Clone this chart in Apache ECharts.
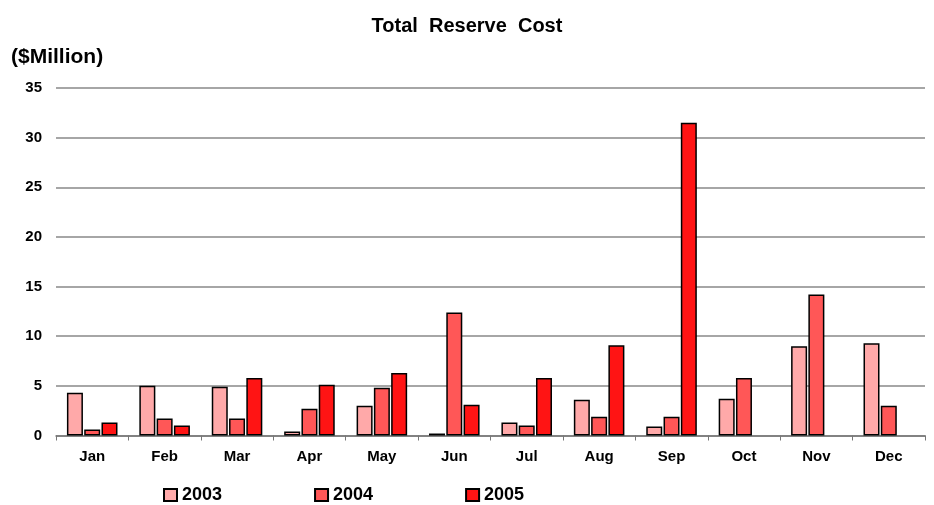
<!DOCTYPE html>
<html>
<head>
<meta charset="utf-8">
<script src="https://cdn.jsdelivr.net/npm/echarts@6/dist/echarts.min.js"></script>
<style>html,body{margin:0;padding:0;background:#fff;}#c{width:934px;height:505px;}</style>
</head>
<body>
<div id="c"></div>
<script>
var months = ['Jan','Feb','Mar','Apr','May','Jun','Jul','Aug','Sep','Oct','Nov','Dec'];
var s2003 = [4.3, 5.0, 4.9, 0.4, 3.0, 0.2, 1.3, 3.6, 0.9, 3.7, 9.0, 9.3];
var s2004 = [0.6, 1.7, 1.7, 2.7, 4.8, 12.4, 1.0, 1.9, 1.9, 5.8, 14.2, 3.0];
var s2005 = [1.3, 1.0, 5.8, 5.1, 6.3, 3.1, 5.8, 9.1, 31.5, null, null, null];
var seriesNames = ['2003','2004','2005'];
var colors = ['#FFA9A9','#FF5757','#FF1414'];

var chart = echarts.init(document.getElementById('c'));
var font = 'Liberation Sans, Arial, sans-serif';
function mk(name, data, color){
  return {
    name: name, type: 'bar', data: data, barWidth: 16, barGap: '8%',
    itemStyle: {color: color, borderColor: '#000', borderWidth: 1.5}
  };
}
chart.setOption({
  animation: false,
  textStyle: {fontFamily: font},
  title: [
    {text: 'Total  Reserve  Cost', left: 'center', top: 11,
     textStyle: {fontSize: 20, fontWeight: 'bold', color: '#000', fontFamily: font}},
    {text: '($Million)', left: 6, top: 42,
     textStyle: {fontSize: 21, fontWeight: 'bold', color: '#000', fontFamily: font}}
  ],
  legend: {
    data: seriesNames, top: 481, left: 158, itemGap: 92,
    itemWidth: 13, itemHeight: 12, icon: 'rect',
    textStyle: {fontSize: 18, fontWeight: 'bold', color: '#000', fontFamily: font}
  },
  grid: {left: 56, right: 9, top: 88, bottom: 69.5, containLabel: false},
  xAxis: {
    type: 'category', data: months,
    axisLine: {lineStyle: {color: '#777', width: 1.5}},
    axisTick: {show: true, length: 5, lineStyle: {color: '#777'}},
    axisLabel: {fontSize: 15, fontWeight: 'bold', color: '#000', margin: 14, fontFamily: font}
  },
  yAxis: {
    type: 'value', min: 0, max: 35, interval: 5,
    axisLine: {show: false}, axisTick: {show: false},
    splitLine: {lineStyle: {color: '#888', width: 1.5}},
    axisLabel: {fontSize: 15, fontWeight: 'bold', color: '#000', margin: 14, fontFamily: font}
  },
  series: [mk(seriesNames[0], s2003, colors[0]), mk(seriesNames[1], s2004, colors[1]), mk(seriesNames[2], s2005, colors[2])]
});
</script>
</body>
</html>
